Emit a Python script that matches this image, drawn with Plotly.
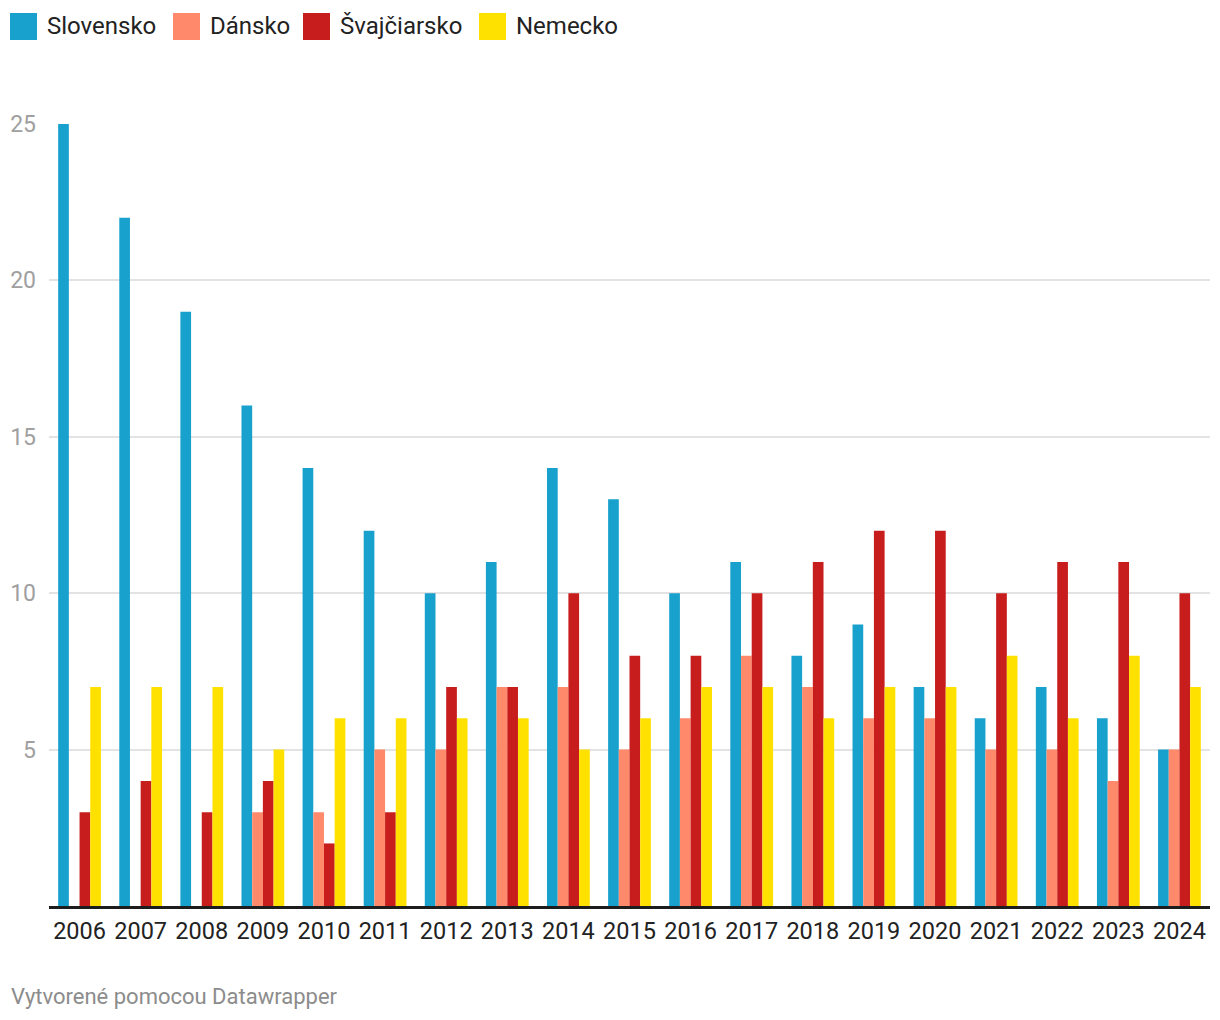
import plotly.graph_objects as go

years = [str(y) for y in range(2006, 2025)]
series_names = ["Slovensko", "Dánsko", "Švajčiarsko", "Nemecko"]
slovensko = [25, 22, 19, 16, 14, 12, 10, 11, 14, 13, 10, 11, 8, 9, 7, 6, 7, 6, 5]
dansko = [None, None, None, 3, 3, 5, 5, 7, 7, 5, 6, 8, 7, 6, 6, 5, 5, 4, 5]
svajciarsko = [3, 4, 3, 4, 2, 3, 7, 7, 10, 8, 8, 10, 11, 12, 12, 10, 11, 11, 10]
nemecko = [7, 7, 7, 5, 6, 6, 6, 6, 5, 6, 7, 7, 6, 7, 7, 8, 6, 8, 7]
y_ticks = [5, 10, 15, 20, 25]
colors = ["#18a1cd", "#ff8a6b", "#c71e1d", "#ffe100"]

OFFX, OFFY = 8, 8  # page body margin
W, H = 1220 - OFFX, 1020 - OFFY
ML, MR, MT, MB = 49 - OFFX, 10, 124 - OFFY, 114
PW, PH = W - ML - MR, H - MT - MB

def px(x):
    return (x - OFFX - ML) / PW

def py(y):
    return (H - MB - (y - OFFY)) / PH

fig = go.Figure()
for name, vals, col in zip(series_names, [slovensko, dansko, svajciarsko, nemecko], colors):
    fig.add_trace(go.Bar(x=years, y=vals, name=name, marker=dict(color=col, line=dict(width=0)),
                         showlegend=False))

FONT = "Roboto"
legend_sq_x = [10, 173, 303, 479]
shapes = []
annotations = []
for name, col, sx in zip(series_names, colors, legend_sq_x):
    shapes.append(dict(type="rect", xref="paper", yref="paper",
                       x0=px(sx), x1=px(sx + 27), y0=py(40), y1=py(13),
                       fillcolor=col, line=dict(width=0), layer="above"))
    annotations.append(dict(text=name, xref="paper", yref="paper", x=px(sx + 35), y=py(26),
                            xanchor="left", yanchor="middle", showarrow=False,
                            font=dict(family=FONT, size=24, color="#222222")))

annotations.append(dict(text="Vytvorené pomocou Datawrapper", xref="paper", yref="paper",
                        x=px(9), y=py(996), xanchor="left", yanchor="middle", showarrow=False,
                        font=dict(family=FONT, size=22, color="#8c8c8c")))

fig.update_layout(
    width=W, height=H,
    margin=dict(l=ML, r=MR, t=MT, b=MB, pad=0, autoexpand=False),
    paper_bgcolor="white", plot_bgcolor="white",
    barmode="group", bargap=0.30, bargroupgap=0,
    font=dict(family=FONT),
    shapes=shapes, annotations=annotations,
    xaxis=dict(type="category", showgrid=False, showline=True, linecolor="#1d1d1d", linewidth=2.5,
               ticks="", ticklabelstandoff=2, automargin=False,
               tickfont=dict(family=FONT, size=23.5, color="#222222"), fixedrange=True),
    yaxis=dict(range=[0, 25], tickvals=y_ticks, showgrid=True, gridcolor="#e3e3e3", gridwidth=2,
               zeroline=False, showline=False, ticks="", ticklabelstandoff=12, automargin=False,
               tickfont=dict(family=FONT, size=23, color="#a0a0a0"), fixedrange=True),
)

fig.write_html("out.html", config={"displayModeBar": False})
